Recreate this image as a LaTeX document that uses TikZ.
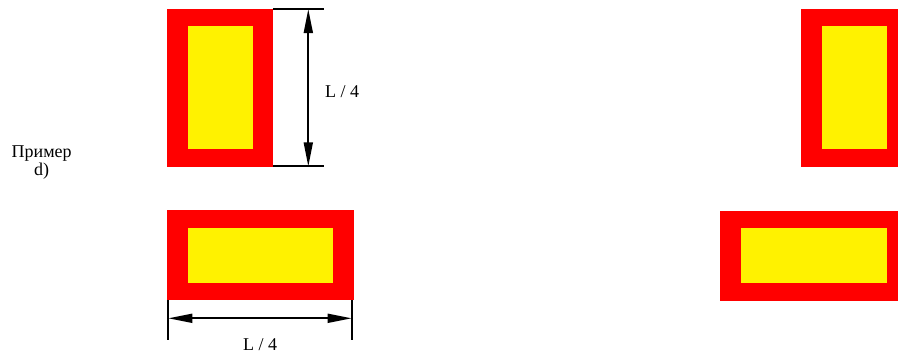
\documentclass[tikz,border=0pt]{standalone}
\usepackage{fontspec}
\setmainfont{Liberation Serif}
\usetikzlibrary{arrows.meta}

\begin{document}
\begin{tikzpicture}[x=1pt,y=-1pt]

    \useasboundingbox (0,0) rectangle (898,356);

    % Estilos
    \tikzset{
        plate/.style={fill=red},
        core/.style={fill=yellow},
        dimline/.style={line width=1.7pt,
            {Triangle[length=24pt,width=9pt]}-{Triangle[length=24pt,width=9pt]}},
        extline/.style={line width=1.7pt},
        lbl/.style={font=\fontsize{18}{18}\selectfont, inner sep=0pt, align=center}
    }

    % --------------------
    % Texto lateral
    % --------------------
    \node[lbl] (caption) at (41.7,163) {Пример\\d)};

    % --------------------
    % Placa vertical (esquerda)
    % --------------------
    \fill[plate] (166.7,9) rectangle (273.3,166.7);
    \fill[core] (187.7,26) rectangle (253.3,149.3);

    \coordinate (vtop) at (308.3,9);
    \coordinate (vbot) at (308.3,166.3);
    \draw[extline] (273.3,9) -- (324,9);
    \draw[extline] (273.3,166.3) -- (324,166.3);
    \draw[dimline] (vtop) -- (vbot);
    \node[lbl, anchor=base] (hlabel) at (342,97.7) {L / 4};

    % --------------------
    % Placa horizontal (esquerda)
    % --------------------
    \fill[plate] (166.7,210) rectangle (354,300);
    \fill[core] (187.7,227.7) rectangle (333.3,283.3);

    \coordinate (hleft) at (168.3,318.3);
    \coordinate (hright) at (351.7,318.3);
    \draw[extline] (168.3,300) -- (168.3,340);
    \draw[extline] (351.7,300) -- (351.7,340);
    \draw[dimline] (hleft) -- (hright);
    \node[lbl, anchor=base] (wlabel) at (260,350) {L / 4};

    % --------------------
    % Placas da direita
    % --------------------
    \fill[plate] (800.7,9) rectangle (898,166.7);
    \fill[core] (821.7,26) rectangle (886.7,149.3);

    \fill[plate] (720,210.7) rectangle (898,301);
    \fill[core] (741,228.3) rectangle (886.7,283.3);

\end{tikzpicture}
\end{document}
